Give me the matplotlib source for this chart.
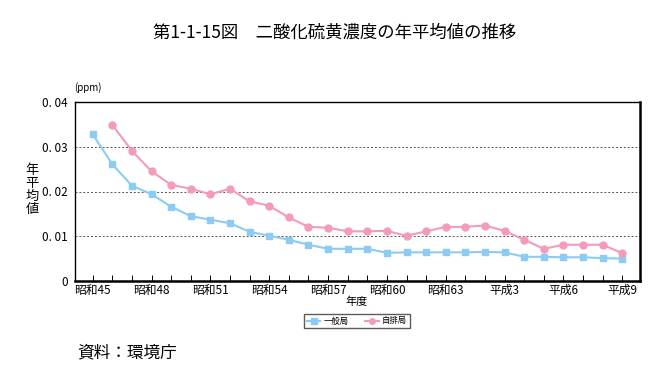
import matplotlib
matplotlib.use("Agg")
import matplotlib.pyplot as plt
from matplotlib.ticker import FixedLocator

plt.rcParams["font.family"] = ["Noto Sans CJK JP", "DejaVu Sans"]

years = list(range(1970, 1998))
tick_labels = ["昭和45", "昭和48", "昭和51", "昭和54", "昭和57",
               "昭和60", "昭和63", "平成3", "平成6", "平成9"]
# 一般局 (general stations), 1970-1997
ippan = [0.0328, 0.0261, 0.0213, 0.0194, 0.0166, 0.0145, 0.0137, 0.0129,
         0.0110, 0.0101, 0.0092, 0.0081, 0.0072, 0.0072, 0.0072, 0.0063,
         0.0064, 0.0064, 0.0064, 0.0064, 0.0065, 0.0064, 0.0054, 0.0054,
         0.0053, 0.0053, 0.0051, 0.0050]
# 自排局 (roadside stations), 1971-1997
jihai = [0.0349, 0.0291, 0.0245, 0.0215, 0.0206, 0.0194, 0.0206, 0.0178,
         0.0168, 0.0142, 0.0121, 0.0119, 0.0111, 0.0111, 0.0112, 0.0101,
         0.0111, 0.0121, 0.0121, 0.0124, 0.0112, 0.0092, 0.0072, 0.0081,
         0.0081, 0.0081, 0.0062]
yticks = [0, 0.01, 0.02, 0.03, 0.04]
ytick_labels = ["0", "0. 01", "0. 02", "0. 03", "0. 04"]

BLUE, PINK = "#8CCBF2", "#F39BBB"

fig = plt.figure(figsize=(6.69, 3.88), dpi=100)
ax = fig.add_axes([75 / 669, 1 - 281 / 388, 565 / 669, 179 / 388])

x = list(range(len(years)))
ax.plot(x, ippan, color=BLUE, lw=1.5, marker="s", ms=5, mec=BLUE, label="一般局")
ax.plot(x[1:], jihai, color=PINK, lw=1.5, marker="o", ms=5, mec=PINK, label="自排局")

ax.set_xlim(-0.9, len(years) - 0.1)
ax.set_ylim(0, 0.04)
ax.set_yticks(yticks)
ax.set_yticklabels(ytick_labels, fontsize=8.5)
ax.tick_params(axis="y", length=0, pad=5)
ax.xaxis.set_major_locator(FixedLocator(list(range(0, len(years), 3))))
ax.set_xticklabels(tick_labels, fontsize=8.5)
ax.xaxis.set_minor_locator(FixedLocator(x))
ax.tick_params(axis="x", which="both", direction="in", length=4, width=0.7, pad=2)
for yv in yticks[1:-1]:
    ax.axhline(yv, color="#555555", lw=0.7, ls=(0, (2, 2)), zorder=0)

for sp in ["left", "top"]:
    ax.spines[sp].set_linewidth(1.0)
for sp in ["right", "bottom"]:
    ax.spines[sp].set_linewidth(1.8)

fig.text(0.5, 1 - 33 / 388, "第1-1-15図　二酸化硫黄濃度の年平均値の推移",
         ha="center", va="center", fontsize=12.5)
fig.text(74 / 669, 1 - 88 / 388, "(ppm)", ha="left", va="center", fontsize=7)
fig.text(32 / 669, 1 - 190 / 388, "年\n平\n均\n値", ha="center", va="center",
         fontsize=9.5, linespacing=1.0)
fig.text(357 / 669, 1 - 302 / 388, "年度", ha="center", va="center", fontsize=8)
fig.text(77 / 669, 1 - 353 / 388, "資料：環境庁", ha="left", va="center", fontsize=12)

leg = fig.legend(loc="center", bbox_to_anchor=(357 / 669, 1 - 321 / 388), ncol=2,
                 fontsize=6, frameon=True, fancybox=False, edgecolor="#333333",
                 handlelength=1.6, markerscale=0.8, borderpad=0.3,
                 columnspacing=2.0, handletextpad=0.4)
leg.get_frame().set_linewidth(1.0)

fig.savefig("out.png", dpi=100)
